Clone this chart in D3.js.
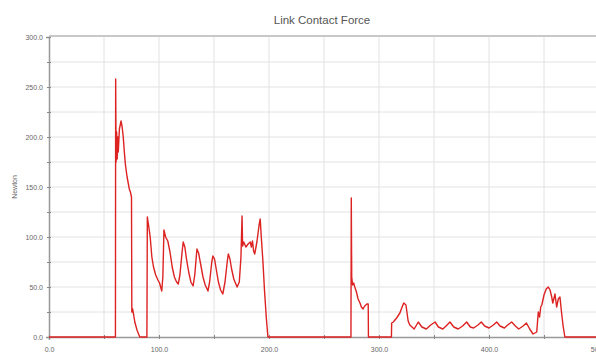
<!DOCTYPE html>
<html>
<head>
<meta charset="utf-8">
<script src="https://cdn.jsdelivr.net/npm/d3@7"></script>
<style>
  body { margin: 0; background: #fff; }
  svg { display: block; font-family: "Liberation Sans", Arial, sans-serif; }
</style>
</head>
<body>
<div id="chart"></div>
<script>
// data: time (sec) and contact force (Newton)
const timeSec = [
  0, 60.4, 60.6, 61, 61.5, 62, 62.5, 63, 64, 65.5, 66.5, 67.5, 68.5, 69.5, 71, 72, 73, 74, 75,
  75.3, 76, 77, 78, 80, 82.5,
  89, 89.4, 90.5, 92, 93.5, 95, 97, 99, 100.5, 101.5, 102.5, 103.5, 104.5, 106, 108, 110, 112,
  114, 116, 117.5, 119, 121, 122, 123.5, 125, 127, 129, 131, 132.5, 134.5, 136, 138, 140, 142,
  144.5, 146, 148, 149, 150.5, 152, 154, 156, 158, 160, 162, 163, 164.5, 166, 168, 171, 173,
  174.5, 175.5, 176, 177, 179, 181, 183, 184, 185, 186, 187, 189, 191, 192, 193, 194.5, 196,
  197.5, 199,
  274.5, 274.8, 275.2, 276, 277, 278, 279.5, 281, 282.7, 284, 285.5, 287, 289, 290.2, 290.4,
  311.3, 311.5, 313, 316, 319, 321, 322.5, 324.5, 326.5, 328, 330, 332, 335.7, 339, 343, 347,
  351, 354, 358, 361, 364.5, 368, 372, 376, 379.7, 383, 386, 390, 393, 396, 400, 404, 407, 410,
  414, 417, 420.6, 424, 427, 431, 434, 437, 440, 443.4, 444.8, 446, 447, 448, 450, 452, 453.9,
  455.5, 457, 458, 460, 461.5, 463, 464.5, 466, 467.5, 469, 500
];
const forceN = [
  0, 0, 258, 175, 205, 178, 200, 185, 208, 216, 210, 200, 185, 172, 160, 154, 148, 145, 140,
  25, 28, 22, 15, 7, 0,
  0, 120, 112, 100, 80, 70, 62, 57, 54, 50, 46, 60, 107, 100, 96, 85, 70,
  60, 55, 53, 62, 85, 95, 90, 78, 65, 55, 51, 62, 88, 84, 72, 60, 52,
  46, 55, 75, 81, 78, 68, 55, 47, 43, 55, 75, 83, 78, 68, 58, 50, 55,
  80, 121, 91, 95, 90, 93, 95, 90, 96, 86, 83, 95, 112, 118, 100, 75, 45,
  20, 0,
  0, 139, 60, 52, 54, 50, 45, 38, 34, 30, 28, 31, 33, 33, 0,
  0, 14, 15, 19, 24, 30, 34, 32, 16, 12, 10, 8, 15, 10, 8, 12,
  15, 10, 8, 11, 15, 10, 8, 11, 15, 10, 9, 12, 15, 11, 9, 12, 15, 11,
  9, 12, 15, 11, 8, 11, 14, 8, 3, 5, 25, 20, 30, 32, 42, 48, 50,
  47, 40, 34, 43, 30, 38, 40, 24, 10, 0, 0
];
const yTicks = [0, 50, 100, 150, 200, 250, 300];
const xTicks = [0, 100, 200, 300, 400, 500];

const W = 596, H = 362;
const padLeft = 49, padTop = 37, plotW = 550, plotH = 300;

const svg = d3.select("#chart").append("svg")
  .attr("width", W).attr("height", H);

const x = d3.scaleLinear().domain([0, 500]).range([padLeft, padLeft + plotW]);
const y = d3.scaleLinear().domain([0, 300]).range([padTop + plotH, padTop]);

// grid
svg.append("g").selectAll("line")
  .data(d3.range(50, 501, 50))
  .join("line")
  .attr("x1", d => x(d)).attr("x2", d => x(d))
  .attr("y1", padTop).attr("y2", padTop + plotH)
  .attr("stroke", "#e2e2e2");
svg.append("g").selectAll("line")
  .data(d3.range(25, 300, 25))
  .join("line")
  .attr("x1", padLeft).attr("x2", padLeft + plotW)
  .attr("y1", d => y(d)).attr("y2", d => y(d))
  .attr("stroke", "#e2e2e2");

// frame top
svg.append("line")
  .attr("x1", padLeft).attr("x2", W)
  .attr("y1", padTop - 1).attr("y2", padTop - 1)
  .attr("stroke", "#c8c8c8").attr("stroke-width", 2);

// axes
const yAxis = d3.axisLeft(y).tickValues(d3.range(0, 301, 25)).tickSize(3)
  .tickFormat(d => yTicks.includes(d) ? d3.format(".1f")(d) : "");
const gy = svg.append("g").attr("transform", `translate(${padLeft},0)`).call(yAxis);
const xAxis = d3.axisBottom(x).tickValues(d3.range(0, 501, 50)).tickSize(3)
  .tickFormat(d => xTicks.includes(d) ? d3.format(".1f")(d) : "");
const gx = svg.append("g").attr("transform", `translate(0,${padTop + plotH})`).call(xAxis);

[gx, gy].forEach(g => {
  g.select(".domain").attr("stroke", "#999").attr("stroke-width", 1.5);
  g.selectAll(".tick line").attr("stroke", "#888");
  g.selectAll("text").attr("fill", "#666").style("font-size", "7px");
});
gy.selectAll(".tick line").attr("x2", 2).attr("x1", -2);
gx.selectAll(".tick line").attr("y1", -2).attr("y2", 2);
gx.selectAll("text").attr("dy", "1.3em");

// series
const line = d3.line()
  .x((d, i) => x(timeSec[i]))
  .y(d => y(d));
svg.append("clipPath").attr("id", "clip")
  .append("rect").attr("x", padLeft).attr("y", padTop).attr("width", plotW).attr("height", plotH + 2);
svg.append("path")
  .datum(forceN)
  .attr("clip-path", "url(#clip)")
  .attr("fill", "none")
  .attr("stroke", "#dd2222")
  .attr("stroke-width", 1.4)
  .attr("stroke-linejoin", "round")
  .attr("d", line);

// labels
svg.append("text")
  .attr("x", 322).attr("y", 24)
  .attr("text-anchor", "middle")
  .attr("fill", "#555")
  .style("font-size", "11.5px")
  .text("Link Contact Force");
svg.append("text")
  .attr("transform", "translate(17,187) rotate(-90)")
  .attr("text-anchor", "middle")
  .attr("fill", "#666")
  .style("font-size", "7px")
  .text("Newton");
svg.append("text")
  .attr("x", 322).attr("y", 367)
  .attr("text-anchor", "middle")
  .attr("fill", "#666")
  .style("font-size", "8px")
  .text("sec");
</script>
</body>
</html>
